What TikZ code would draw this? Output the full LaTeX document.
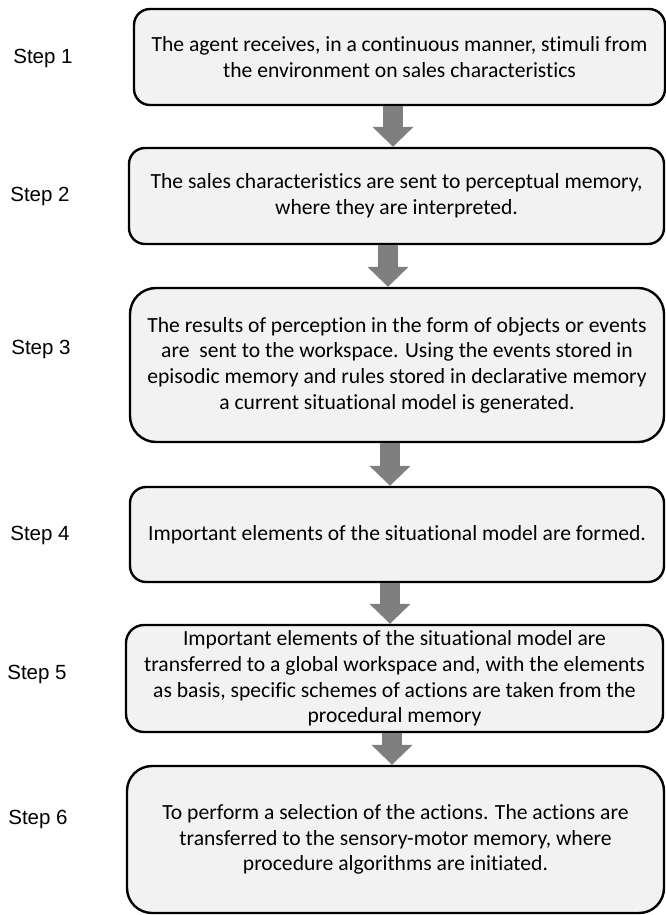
\documentclass[tikz,border=0pt]{standalone}
\usepackage{fontspec}
\setmainfont{Carlito}[Ligatures=NoCommon]
\newfontfamily\labfont{Liberation Sans}
\usepackage{xcolor,tikz}
\usetikzlibrary{arrows.meta}
\definecolor{boxfill}{HTML}{F2F2F2}
\definecolor{arrgray}{HTML}{7F7F7F}
\tikzset{box/.style={draw=black,fill=boxfill,line width=2.4pt,rounded corners=#1,align=center,
  font=\fontsize{21.6}{25.7}\selectfont},box/.default=16pt,
 lab/.style={font=\fontsize{20.5}{24}\labfont},
 flow/.style={draw=arrgray,line width=20pt,-{Triangle[length=20pt,width=40pt]}}}
\begin{document}
\begin{tikzpicture}[x=1pt,y=-1pt]
\useasboundingbox (0,0) rectangle (666,915);
\node[box,minimum width=531,minimum height=96](b1) at (399.5,57){The agent receives, in a continuous manner, stimuli from\\the environment on sales characteristics};
\node[box,minimum width=535,minimum height=96](b2) at (396.5,196){The sales characteristics are sent to perceptual memory,\\where they are interpreted.};
\node[box=26pt,minimum width=534,minimum height=154](b3) at (397,365){The results of perception in the form of objects or events\\are\ \ sent to the workspace. Using the events stored in\\episodic memory and rules stored in declarative memory\\a current situational model is generated.};
\node[box,minimum width=534,minimum height=95](b4) at (397,534.5){Important elements of the situational model are formed.};
\node[box=18pt,minimum width=537,minimum height=107](b5) at (394.5,678.5){Important elements of the situational model are\\transferred to a global workspace and, with the elements\\as basis, specific schemes of actions are taken from the\\procedural memory};
\node[box=25pt,minimum width=537,minimum height=147](b6) at (395.5,839.5){To perform a selection of the actions. The actions are\\transferred to the sensory-motor memory, where\\procedure algorithms are initiated.};
\foreach \a/\b/\s in {b1/b2/-6.5,b2/b3/-8.5,b3/b4/-7,b4/b5/-7,b5/b6/-2.5}
 \draw[flow]([xshift=\s pt]\a.south)--([xshift=\s pt]\a.south |- \b.north);
\node[lab](s1) at (43,58){Step 1};
\node[lab](s2) at (40,196){Step 2};
\node[lab](s3) at (41,349){Step 3};
\node[lab](s4) at (40,535){Step 4};
\node[lab](s5) at (37,674){Step 5};
\node[lab](s6) at (38,819){Step 6};
\end{tikzpicture}
\end{document}
